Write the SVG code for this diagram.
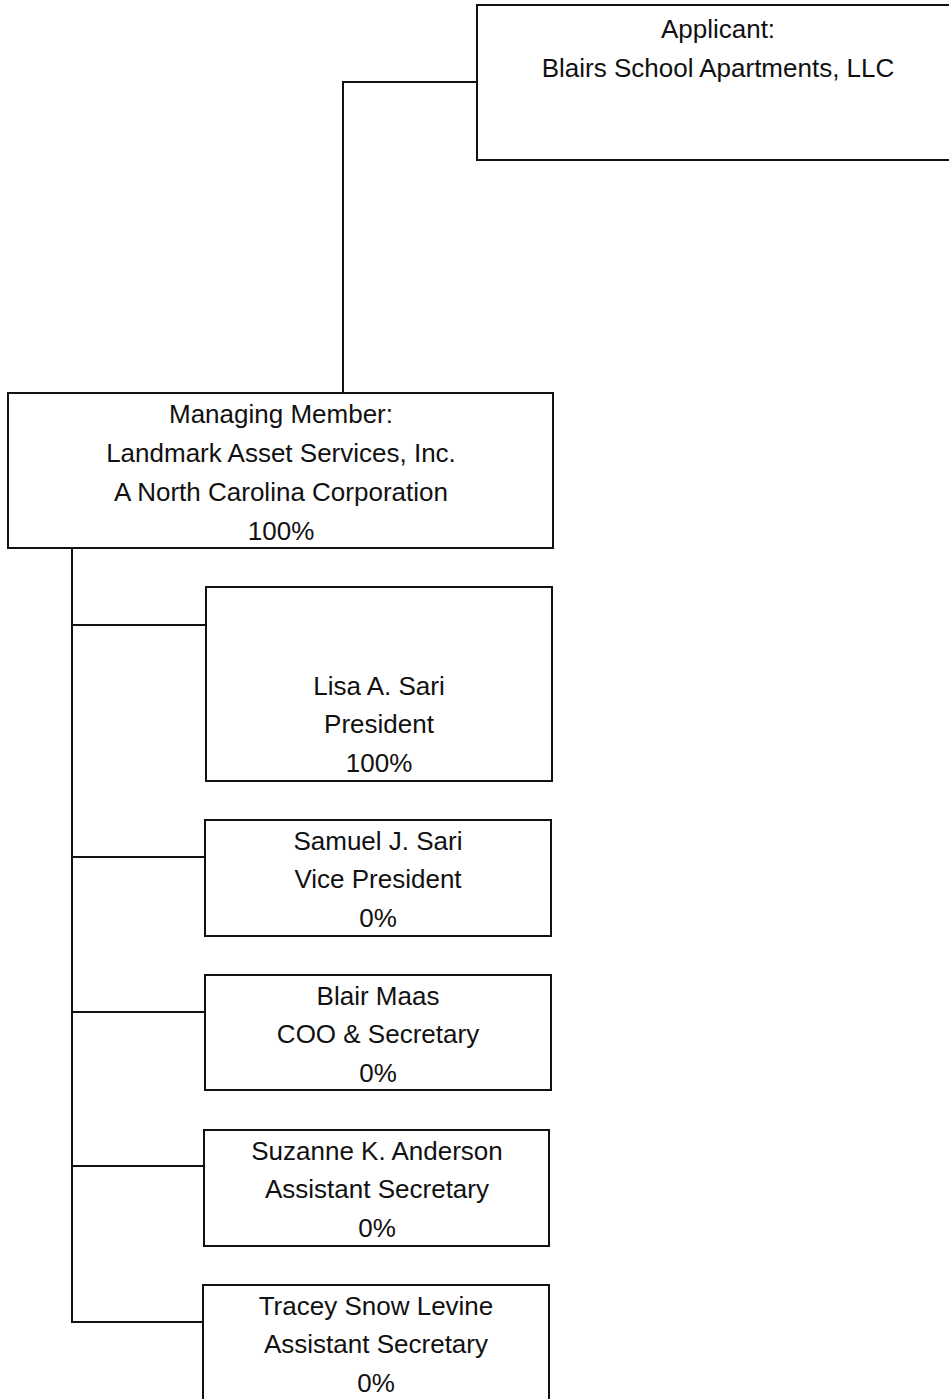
<svg xmlns="http://www.w3.org/2000/svg" width="949" height="1399" viewBox="0 0 949 1399">
<style>
.box{fill:#fff;stroke:#111;stroke-width:2}
.ln{fill:none;stroke:#111;stroke-width:2}
text{font-family:"Liberation Sans",Arial,sans-serif;font-size:26px;fill:#111;text-anchor:middle}
</style>
<rect width="949" height="1399" fill="#fff"/>
<g id="connectors">
<polyline class="ln" points="477,82 343,82 343,393"/>
<polyline class="ln" points="72,548 72,1322 204,1322"/>
<line class="ln" x1="72" y1="625" x2="206" y2="625"/>
<line class="ln" x1="72" y1="857" x2="205" y2="857"/>
<line class="ln" x1="72" y1="1012" x2="205" y2="1012"/>
<line class="ln" x1="72" y1="1166" x2="204" y2="1166"/>
</g>
<g id="applicant">
<rect class="box" x="477" y="5" width="490" height="155"/>
<text x="718" y="38">Applicant:</text>
<text x="718" y="77">Blairs School Apartments, LLC</text>
</g>
<g id="managing">
<rect class="box" x="8" y="393" width="545" height="155"/>
<text x="281" y="423">Managing Member:</text>
<text x="281" y="462">Landmark Asset Services, Inc.</text>
<text x="281" y="501">A North Carolina Corporation</text>
<text x="281" y="540">100%</text>
</g>
<g id="lisa">
<rect class="box" x="206" y="587" width="346" height="194"/>
<text x="379" y="695">Lisa A. Sari</text>
<text x="379" y="733">President</text>
<text x="379" y="772">100%</text>
</g>
<g id="samuel">
<rect class="box" x="205" y="820" width="346" height="116"/>
<text x="378" y="850">Samuel J. Sari</text>
<text x="378" y="888">Vice President</text>
<text x="378" y="927">0%</text>
</g>
<g id="blair">
<rect class="box" x="205" y="975" width="346" height="115"/>
<text x="378" y="1005">Blair Maas</text>
<text x="378" y="1043">COO &amp; Secretary</text>
<text x="378" y="1082">0%</text>
</g>
<g id="suzanne">
<rect class="box" x="204" y="1130" width="345" height="116"/>
<text x="377" y="1160">Suzanne K. Anderson</text>
<text x="377" y="1198">Assistant Secretary</text>
<text x="377" y="1237">0%</text>
</g>
<g id="tracey">
<rect class="box" x="203" y="1285" width="346" height="130"/>
<text x="376" y="1315">Tracey Snow Levine</text>
<text x="376" y="1353">Assistant Secretary</text>
<text x="376" y="1392">0%</text>
</g>
</svg>
